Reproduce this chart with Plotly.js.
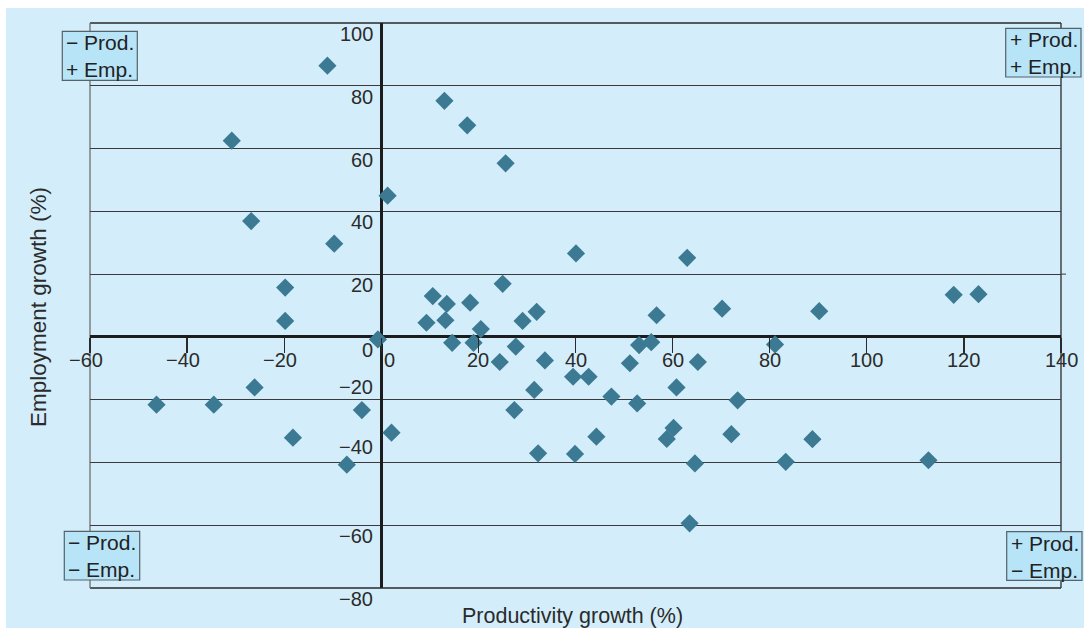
<!DOCTYPE html>
<html>
<head>
<meta charset="utf-8">
<script src="https://cdn.plot.ly/plotly-3.0.1.min.js"></script>
<style>
  html, body { margin: 0; padding: 0; background: #ffffff; }
  #chart { position: absolute; left: 6px; top: 8px; width: 1078px; height: 620px; }
</style>
</head>
<body>
<div id="chart"></div>
<script>
// ---------------- data ----------------
const productivity = [
  -11.1, -30.8, 13.0, 17.7, 25.6, 1.3, -26.8, -9.7, -19.8, -19.8,
  25.0, 10.6, 13.5, 18.3, 9.3, 13.2, 20.5, 29.1, 32.0, -0.7,
  -46.3, -34.5, -26.1, -18.2, -4.0, -7.1, 2.1, 14.6, 19.0, 24.4,
  27.7, 27.4, 31.5, 32.3, 33.7, 40.1, 63.0, 56.7, 70.2, 90.2,
  53.1, 55.6, 81.1, 65.2, 51.2, 39.5, 42.7, 47.4, 60.8, 52.7,
  73.4, 44.3, 60.2, 58.8, 72.1, 88.8, 39.9, 64.6, 83.3, 63.5,
  117.9, 123.0, 112.7
];
const employment = [
  86.4, 62.5, 75.2, 67.4, 55.3, 45.0, 36.9, 29.7, 15.7, 5.1,
  16.9, 13.0, 10.5, 10.9, 4.5, 5.3, 2.5, 5.1, 8.0, -0.8,
  -21.6, -21.6, -16.1, -32.1, -23.3, -40.7, -30.5, -1.9, -1.9, -8.0,
  -3.1, -23.3, -16.9, -37.1, -7.5, 26.6, 25.2, 6.9, 9.0, 8.2,
  -2.6, -1.7, -2.4, -8.0, -8.4, -12.7, -12.7, -19.0, -16.1, -21.2,
  -20.2, -31.8, -29.0, -32.5, -31.0, -32.6, -37.3, -40.3, -39.8, -59.4,
  13.4, 13.6, -39.3
];
const xTickVals = [-60, -40, -20, 0, 20, 40, 60, 80, 100, 120, 140];
const xTickText = ['−60', '−40', '−20', '0', '20', '40', '60', '80', '100', '120', '140'];
const yTickVals = [-80, -60, -40, -20, 0, 20, 40, 60, 80, 100];
const yTickText = ['−80', '−60', '−40', '−20', '0', '20', '40', '60', '80', '100'];
const quadrantLabels = [
  ['− Prod.', '+ Emp.'],
  ['+ Prod.', '+ Emp.'],
  ['− Prod.', '− Emp.'],
  ['+ Prod.', '− Emp.']
];
const xTitle = 'Productivity growth (%)';
const yTitle = 'Employment growth (%)';

// ---------------- layout geometry (page pixels) ----------------
const OX = 6, OY = 8, W = 1078, H = 620;
const PL = 90, PR = 1061, PT = 23, PB = 588;
const px = v => (v - PL) / (PR - PL);
const py = v => (PB - v) / (PB - PT);

const FONT = 'Liberation Sans, Arial, Helvetica, sans-serif';
const TXT = '#2b2b2b';
const BG = '#d3eefa';
const BOXFILL = '#b8e4f8';
const BOXLINE = '#55626a';
const MARK = '#3c7a93';

// quadrant box rectangles [x0, y0, x1, y1] in page px
const boxes = [
  [62.3, 31.3, 137.3, 80.3],
  [1005.7, 28.3, 1081, 77],
  [64.3, 531.3, 139.7, 580],
  [1006.7, 531.7, 1082, 580.3]
];

const shapes = [];
const annotations = [];

// frame
shapes.push({type: 'line', xref: 'paper', yref: 'paper', x0: 0, x1: 1, y0: 1, y1: 1, line: {color: '#2a2a2a', width: 1.3}, layer: 'below'});
shapes.push({type: 'line', xref: 'paper', yref: 'paper', x0: 0, x1: 1, y0: 0, y1: 0, line: {color: '#2a2a2a', width: 1.3}, layer: 'below'});
shapes.push({type: 'line', xref: 'paper', yref: 'paper', x0: 1, x1: 1, y0: 0, y1: 1, line: {color: '#2a2a2a', width: 1.3}, layer: 'below'});
shapes.push({type: 'line', xref: 'paper', yref: 'paper', x0: 0, x1: 0, y0: 0, y1: 1, line: {color: '#6e6e6e', width: 1.3}, layer: 'below'});
// the 20 grid line pokes out past the right frame
shapes.push({type: 'line', xref: 'paper', yref: 'y', x0: 1, x1: px(1066), y0: 20, y1: 20, line: {color: '#3a3a3a', width: 1}});

// quadrant boxes
boxes.forEach((b, i) => {
  shapes.push({
    type: 'rect', xref: 'paper', yref: 'paper',
    x0: px(b[0]), x1: px(b[2]), y0: py(b[3]), y1: py(b[1]),
    fillcolor: BOXFILL, line: {color: BOXLINE, width: 1.2}, layer: 'above'
  });
  annotations.push({
    xref: 'paper', yref: 'paper',
    x: px(b[0] + 2), y: py((b[1] + b[3]) / 2 + 0.5),
    xanchor: 'left', yanchor: 'middle', align: 'left', showarrow: false,
    text: quadrantLabels[i].join('<br>'),
    font: {family: FONT, size: 21, color: '#222222'}
  });
});

// x tick labels (sit under the zero line)
xTickVals.forEach((v, i) => {
  let shift = 0;
  if (v === 0) shift = 8;
  else if (v < 0) shift = -4;
  annotations.push({
    xref: 'x', yref: 'paper', x: v, y: py(360.5),
    xanchor: 'center', yanchor: 'middle', xshift: shift, showarrow: false,
    text: xTickText[i], font: {family: FONT, size: 20, color: TXT}
  });
});

// y tick labels (left of the vertical zero line)
yTickVals.forEach((v, i) => {
  let ys = -11;
  if (v === 0) ys = -13;
  if (v === -20) ys = 13;
  if (v === -40) ys = 15;
  annotations.push({
    xref: 'paper', yref: 'y', x: px(375), y: v,
    xanchor: 'right', yanchor: 'middle', yshift: ys, showarrow: false,
    text: yTickText[i], font: {family: FONT, size: 20, color: TXT}
  });
});

// axis titles
annotations.push({
  xref: 'paper', yref: 'paper', x: px(572), y: py(616),
  xanchor: 'center', yanchor: 'middle', showarrow: false,
  text: xTitle, font: {family: FONT, size: 21.5, color: TXT}
});
annotations.push({
  xref: 'paper', yref: 'paper', x: px(39), y: py(307),
  xanchor: 'center', yanchor: 'middle', showarrow: false, textangle: -90,
  text: yTitle, font: {family: FONT, size: 22.5, color: TXT}
});

const trace = {
  type: 'scatter', mode: 'markers',
  x: productivity, y: employment,
  marker: {symbol: 'diamond', size: 14, color: MARK, line: {width: 0}},
  hoverinfo: 'x+y'
};

const layout = {
  width: W, height: H,
  margin: {l: PL - OX, r: (OX + W) - PR, t: PT - OY, b: (OY + H) - PB, pad: 0},
  paper_bgcolor: BG, plot_bgcolor: BG,
  showlegend: false,
  font: {family: FONT, color: TXT},
  xaxis: {
    range: [-60, 140], anchor: 'free', position: 80 / 180,
    tickmode: 'array', tickvals: xTickVals, showticklabels: false,
    ticks: 'outside', ticklen: 15, tickwidth: 1.4, tickcolor: '#2a2a2a',
    showgrid: false, showline: false,
    zeroline: true, zerolinecolor: '#1c1c1c', zerolinewidth: 3,
    fixedrange: true
  },
  yaxis: {
    range: [-80, 100],
    tickmode: 'array', tickvals: yTickVals, showticklabels: false, ticks: '',
    showgrid: true, gridcolor: '#3a3a3a', gridwidth: 1,
    showline: false,
    zeroline: true, zerolinecolor: '#1c1c1c', zerolinewidth: 3,
    fixedrange: true
  },
  shapes: shapes,
  annotations: annotations
};

Plotly.newPlot('chart', [trace], layout, {displayModeBar: false, staticPlot: true});
</script>
</body>
</html>
